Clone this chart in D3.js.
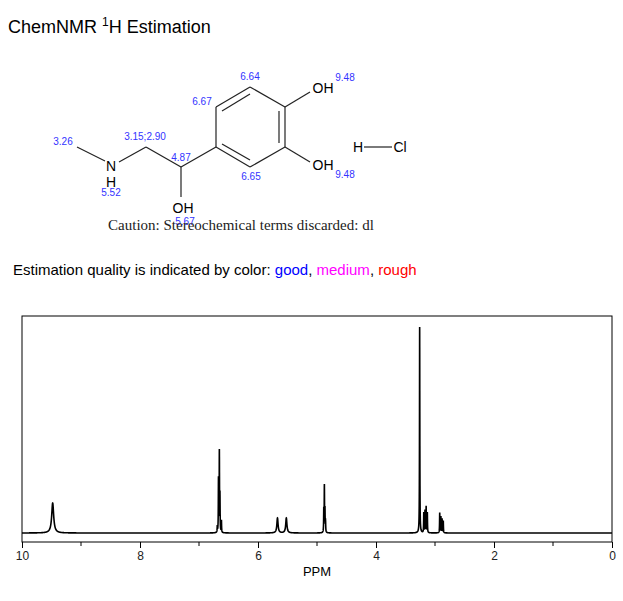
<!DOCTYPE html><html><head><meta charset="utf-8"><script src="https://cdn.jsdelivr.net/npm/d3@7"></script>
<style>body{margin:0;background:#fff}</style></head><body><svg id="c" width="623" height="601"></svg>
<script>
const peakPpm =    [9.48, 6.69, 6.67, 6.655, 6.645, 6.62, 5.67, 5.52, 4.885, 4.875, 4.865, 4.855, 3.26, 3.19, 3.17, 3.15, 3.13, 2.92, 2.90, 2.88, 2.86];
const peakHeight = [30,   6,    53,   79,    35,    12,   15,   15,   22,    45,    22,    10,    206,  20,   22,   26,   20,   20,   16,   14,   12];
const peakWidth =  [0.02, 0.003,0.003,0.003, 0.003, 0.003,0.012,0.012,0.003, 0.003, 0.003, 0.003, 0.003,0.003,0.003,0.003,0.003,0.003,0.003,0.003,0.003];
const majorTicks = [10, 8, 6, 4, 2, 0];
const minorTicks = [9, 7, 5, 3, 1];

const svg = d3.select('#c');
const F = 'Liberation Sans, Arial, sans-serif';
const t = svg.append('text').attr('x',8).attr('y',33).attr('font-family',F).attr('font-size',18);
t.append('tspan').text('ChemNMR ');
t.append('tspan').attr('dy',-7).attr('font-size',12).text('1');
t.append('tspan').attr('dy',7).text('H Estimation');

const bonds = [[216,107,250,87],[250,87,285,107],[285,107,285,147],[285,147,250,167],[250,167,216,147],[216,147,216,107],
 [222,111,250,94],[279,111,279,143],[250,160,222,144],
 [285,107,310,92],[285,147,310,162],[216,147,181,167],[181,167,181,197],[181,167,146,147],[146,147,119,162],[105,161,77,147],[364,147,392,147]];
svg.selectAll('.b').data(bonds).join('line').attr('x1',d=>d[0]).attr('y1',d=>d[1]).attr('x2',d=>d[2]).attr('y2',d=>d[3]).attr('stroke','#222').attr('stroke-width',1.2);
const atoms=[['OH',323,93],['OH',323,170],['OH',183,213],['N',111,171],['H',111,187],['H',358,152],['Cl',400,152]];
svg.selectAll('.a').data(atoms).join('text').attr('x',d=>d[1]).attr('y',d=>d[2]).attr('text-anchor','middle').attr('font-family',F).attr('font-size',14).text(d=>d[0]);
const shifts=[['6.64',250,80],['9.48',345,81],['6.67',202,105],['3.15;2.90',145,140],['3.26',63,145],['4.87',181,161],['6.65',251,180],['9.48',345,178],['5.52',111,196],['5.67',185,225]];
svg.selectAll('.s').data(shifts).join('text').attr('x',d=>d[1]).attr('y',d=>d[2]).attr('text-anchor','middle').attr('font-family',F).attr('font-size',10).attr('fill','#3333ff').text(d=>d[0]);
svg.append('text').attr('x',241).attr('y',230).attr('text-anchor','middle').attr('font-family','Liberation Serif, Times New Roman, serif').attr('font-size',15).attr('fill','#222').text('Caution: Stereochemical terms discarded: dl');

const q = svg.append('text').attr('x',13).attr('y',275).attr('font-family',F).attr('font-size',15);
q.append('tspan').text('Estimation quality is indicated by color: ');
q.append('tspan').attr('fill','#0000ff').text('good');
q.append('tspan').text(', ');
q.append('tspan').attr('fill','#ff00ff').text('medium');
q.append('tspan').text(', ');
q.append('tspan').attr('fill','#ff0000').text('rough');

const x = d3.scaleLinear().domain([10,0]).range([22,612]);
const y = d3.scaleLinear().domain([0,217]).range([533,316]);
svg.append('rect').attr('x',22).attr('y',316).attr('width',590).attr('height',226).attr('fill','none').attr('stroke','#000');
const pts=[];
for(let p=10;p>=0;p-=0.0005){let s=0;for(let i=0;i<peakPpm.length;i++){const w=peakWidth[i],d=p-peakPpm[i];s+=peakHeight[i]*w*w/(d*d+w*w);}pts.push([p,s]);}
svg.append('path').datum(pts).attr('d',d3.line().x(d=>x(d[0])).y(d=>y(d[1]))).attr('fill','none').attr('stroke','#000').attr('stroke-width',1.6);
const ax = svg.append('g').attr('transform','translate(0,542)');
ax.call(d3.axisBottom(x).tickValues(majorTicks).tickFormat(d3.format('d')).tickSize(6));
minorTicks.forEach(m=>ax.append('line').attr('x1',x(m)).attr('x2',x(m)).attr('y1',0).attr('y2',4).attr('stroke','#000'));
ax.select('.domain').remove();
ax.selectAll('text').attr('font-family',F).attr('font-size',12).attr('fill','#222');
svg.append('text').attr('x',317).attr('y',576).attr('text-anchor','middle').attr('font-family',F).attr('font-size',13).text('PPM');
</script></body></html>
